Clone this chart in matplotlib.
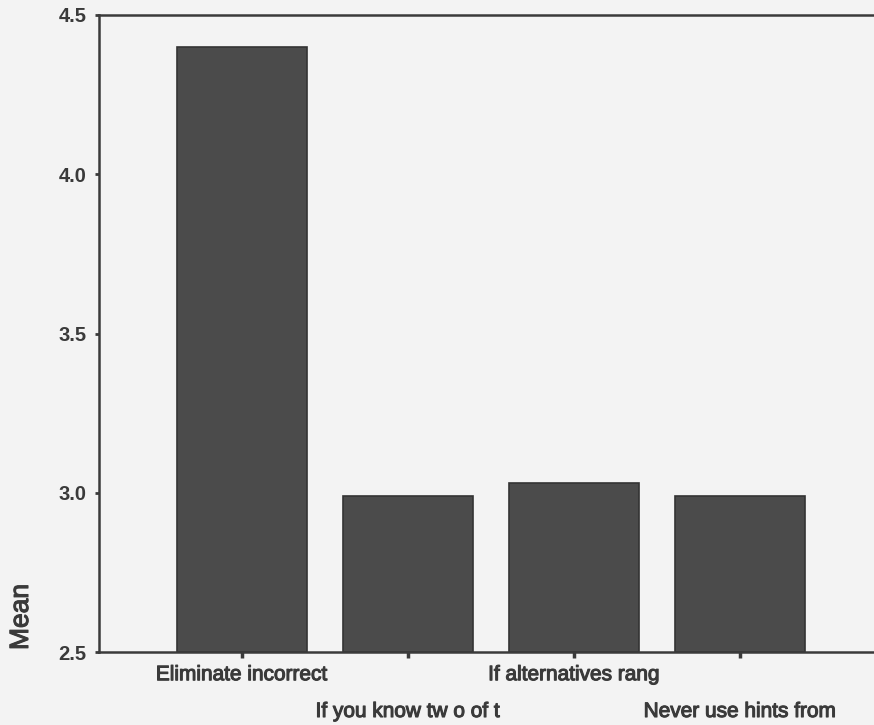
import matplotlib.pyplot as plt
import matplotlib.patheffects as pe

plt.rcParams['font.family'] = ['Liberation Sans', 'DejaVu Sans']

categories = ["Eliminate incorrect", "If you know tw o of t",
              "If alternatives rang", "Never use hints from"]
means = [4.40, 2.99, 3.03, 2.99]
yticks = [2.5, 3.0, 3.5, 4.0, 4.5]

BG = "#f3f3f3"
INK = "#3a3a3a"
thick = [pe.withStroke(linewidth=0.8, foreground=INK)]

fig = plt.figure(figsize=(8.74, 7.25), dpi=100, facecolor=BG)
ax = fig.add_axes([99 / 874, 1 - 652 / 725, (883 - 99) / 874, (652 - 15) / 725])
ax.set_facecolor(BG)

x = range(len(categories))
ax.bar(x, [m - 2.5 for m in means], bottom=2.5, width=0.78,
       color="#4b4b4b", edgecolor="#333333", linewidth=1.2)

ax.set_xlim(-0.86, 3.86)
ax.set_ylim(2.5, 4.5)
ax.set_yticks(yticks)
ax.set_yticklabels([f"{v:.1f}" for v in yticks], fontsize=14.5,
                   fontweight="bold", color=INK)
ax.set_xticks(list(x))
ax.set_xticklabels(categories, fontsize=15, color=INK)
for lab in ax.get_xticklabels():
    lab.set_path_effects(thick)

# staggered category labels
for i, t in enumerate(ax.xaxis.get_major_ticks()):
    t.set_pad(5.5 if i % 2 == 0 else 32)

ax.tick_params(axis="x", direction="out", length=4, width=2.5, color=INK)
ax.tick_params(axis="y", direction="out", length=3, width=2, color=INK, pad=6)

for s in ["left", "top", "bottom", "right"]:
    ax.spines[s].set_color(INK)
    ax.spines[s].set_linewidth(1.8)

fig.text(21 / 874, 1 - 617 / 725, "Mean", rotation=90, fontsize=19,
         color=INK, ha="center", va="center", path_effects=thick)

fig.savefig("out.png", dpi=100, facecolor=BG)
